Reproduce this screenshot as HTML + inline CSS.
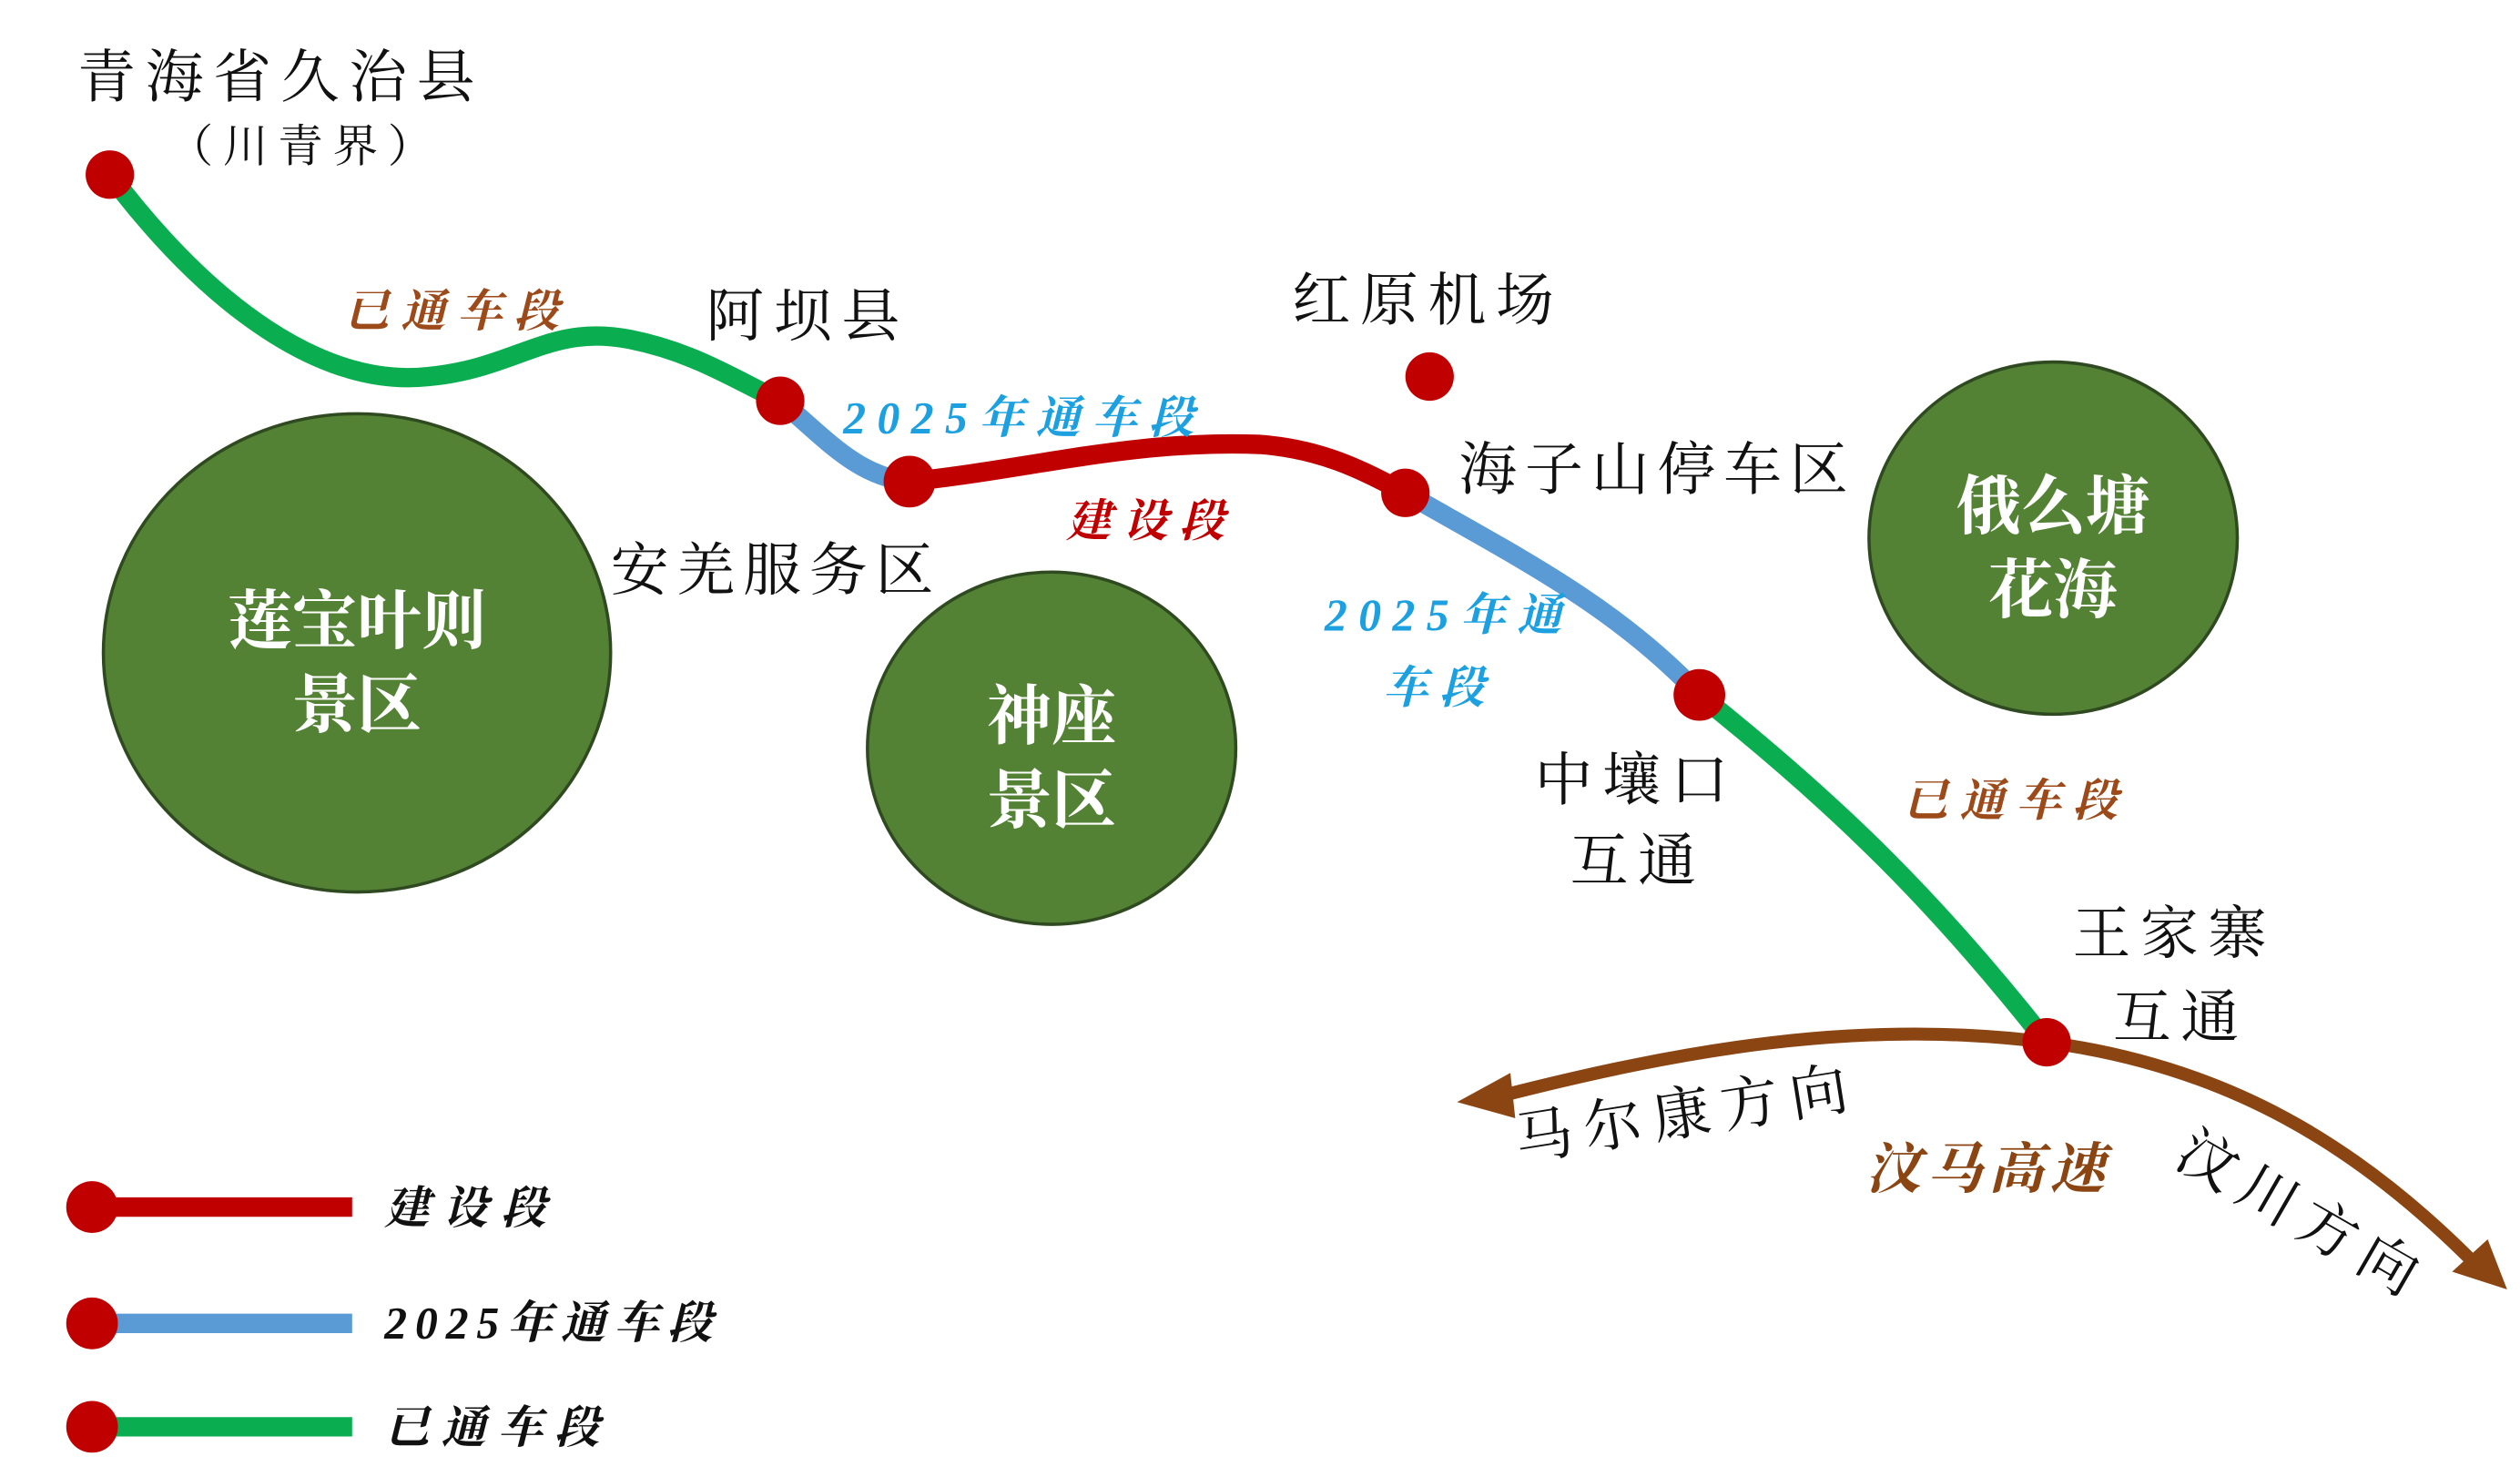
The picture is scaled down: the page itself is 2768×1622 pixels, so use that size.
<!DOCTYPE html>
<html><head><meta charset="utf-8"><style>
html,body{margin:0;padding:0;background:#fff;}
svg{display:block;}
text{font-family:"Liberation Serif","Noto Serif CJK SC","Noto Sans CJK SC",serif;}
.k{font-family:"Liberation Sans","Noto Sans CJK SC",sans-serif;font-weight:bold;font-style:italic;}
</style></head><body>
<svg width="2768" height="1622" viewBox="0 0 1560 914" xmlns="http://www.w3.org/2000/svg">
<rect width="1560" height="914" fill="#fff"/>
<ellipse cx="221" cy="404" rx="157" ry="148" fill="#548235" stroke="#2f4a20" stroke-width="2"/>
<ellipse cx="651" cy="463" rx="114" ry="109" fill="#548235" stroke="#2f4a20" stroke-width="2"/>
<ellipse cx="1271" cy="333" rx="114" ry="109" fill="#548235" stroke="#2f4a20" stroke-width="2"/>
<g fill="#fff" font-size="40" font-weight="bold" text-anchor="middle" style="font-family:'Liberation Sans','Noto Sans CJK SC',sans-serif">
<text x="221" y="398">莲宝叶则</text><text x="221" y="450">景区</text>
<text x="651" y="457">神座</text><text x="651" y="509">景区</text>
<text x="1271" y="327">俄么塘</text><text x="1271" y="379">花海</text>
</g>
<g fill="none" stroke-linecap="round" stroke-width="12">
<path d="M68,108 C130,190 200,240 265,233 C320,228 340,200 390,210 C430,218 455,235 483,248" stroke="#0aae50"/>
<path d="M483,248 C510,270 530,295 563,298" stroke="#5b9bd5"/>
<path d="M563,298 C640,290 700,272 780,275 C820,278 845,292 870,305" stroke="#c00000"/>
<path d="M870,305 C940,345 1000,375 1052,430" stroke="#5b9bd5"/>
<path d="M1052,430 C1140,500 1200,560 1267,645" stroke="#0aae50"/>
</g>
<path d="M930,678 C1040,650 1150,630 1267,645 C1380,660 1460,710 1530,780" fill="none" stroke="#8b4513" stroke-width="8"/>
<polygon points="902,682 935,664 938,692" fill="#8b4513"/>
<polygon points="1552,798 1518,787 1540,767" fill="#8b4513"/>
<g fill="#c00000">
<circle cx="68" cy="108" r="15"/><circle cx="483" cy="248" r="15"/><circle cx="563" cy="298" r="16"/>
<circle cx="870" cy="305" r="15"/><circle cx="885" cy="233" r="15"/><circle cx="1052" cy="430" r="16"/>
<circle cx="1267" cy="645" r="15"/>
</g>
<g fill="#111" font-size="36" letter-spacing="6">
<text x="48" y="60">青海省久治县</text>
<text x="104" y="100" font-size="28">（川青界）</text>
<text x="437" y="208">阿坝县</text>
<text x="800" y="198">红原机场</text>
<text x="903" y="303" letter-spacing="5">海子山停车区</text>
<text x="378" y="365" letter-spacing="5">安羌服务区</text>
<text x="950" y="495">中壤口</text>
<text x="972" y="545">互通</text>
<text x="1283" y="590">王家寨</text>
<text x="1308" y="642">互通</text>
<text x="940" y="718" letter-spacing="7" transform="rotate(-9 940 718)">马尔康方向</text>
<text x="1345" y="720" letter-spacing="7" transform="rotate(30 1345 720)">汶川方向</text>
</g>
<g class="k" letter-spacing="7">
<text x="213" y="202" font-size="28" fill="#9c4a1a">已通车段</text>
<text x="522" y="268" font-size="28" fill="#1ca0e0">2025年通车段</text>
<text x="660" y="332" font-size="28" fill="#c00000">建设段</text>
<text x="820" y="390" font-size="28" fill="#1ca0e0">2025年通</text>
<text x="856" y="435" font-size="28" fill="#1ca0e0">车段</text>
<text x="1178" y="505" font-size="28" fill="#9c4a1a">已通车段</text>
<text x="1155" y="735" font-size="34" fill="#8b4513" letter-spacing="4">汶马高速</text>
</g>
<g stroke-width="12">
<line x1="57" y1="747" x2="218" y2="747" stroke="#c00000"/>
<line x1="57" y1="819" x2="218" y2="819" stroke="#5b9bd5"/>
<line x1="57" y1="883" x2="218" y2="883" stroke="#0aae50"/>
</g>
<g fill="#c00000"><circle cx="57" cy="747" r="16"/><circle cx="57" cy="819" r="16"/><circle cx="57" cy="883" r="16"/></g>
<g class="k" font-size="28" fill="#111">
<text x="238" y="757" letter-spacing="8">建设段</text>
<text x="238" y="828" letter-spacing="5">2025年通车段</text>
<text x="238" y="893" letter-spacing="7">已通车段</text>
</g>
</svg>
</body></html>
